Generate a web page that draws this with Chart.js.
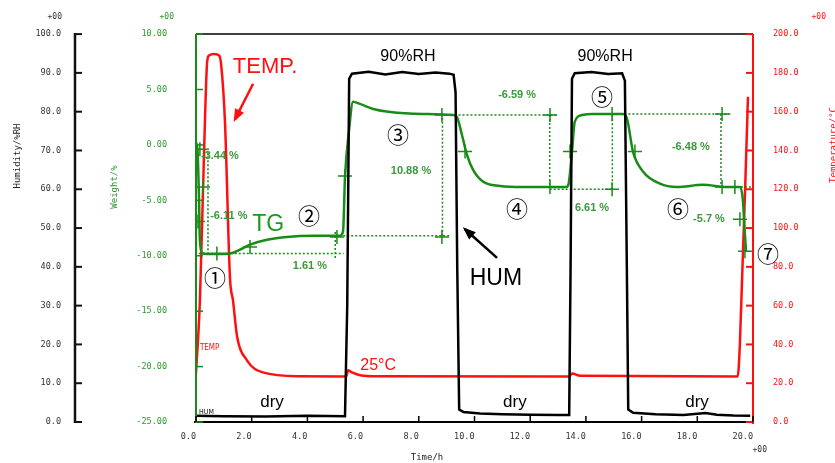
<!DOCTYPE html>
<html>
<head>
<meta charset="utf-8">
<script src="https://cdn.jsdelivr.net/npm/chart.js@4.4.1/dist/chart.umd.min.js"></script>
<style>
  html, body { margin: 0; padding: 0; background: #fff; }
  #wrap { width: 835px; height: 463px; }
</style>
</head>
<body>
<div id="wrap"><canvas id="tgChart"></canvas></div>
<script>
// humidity (%RH) against time (h)
const humTime  = [0, 1, 2.5, 4, 5.35, 5.43, 5.5, 5.6, 6.2, 6.8, 7.4, 8.0, 8.6, 9.1, 9.25, 9.32, 9.38, 9.45, 9.6, 10.2, 11, 12, 13, 13.4, 13.45, 13.5, 13.6, 14.2, 14.8, 15.3, 15.4, 15.47, 15.52, 15.7, 16.5, 17.5, 18.3, 18.7, 19.3, 19.9];
const humValue = [1.6, 1.5, 1.4, 1.6, 1.5, 30, 88.5, 89.8, 90.3, 89.6, 90.2, 89.7, 90.1, 89.8, 89.5, 85, 40, 3.2, 2.6, 2.2, 2.0, 1.9, 1.8, 1.8, 40, 88.5, 89.9, 90.2, 89.7, 89.9, 88, 40, 3.2, 2.4, 2.0, 1.8, 2.3, 1.9, 1.7, 1.6];

// temperature (°C)
const tempTime  = [0, 0.14, 0.29, 0.4, 0.47, 0.65, 0.83, 0.9, 1.04, 1.22, 1.33, 1.47, 1.83, 2.4, 3.73, 5.4, 5.46, 5.6, 5.9, 6.5, 13.4, 13.5, 13.8, 19.45, 19.53, 19.82];
const tempValue = [25, 62.6, 139.5, 185.6, 189, 189.7, 189, 184.6, 154.9, 74.4, 62.6, 44.6, 31.8, 25.6, 23.6, 23.5, 26.7, 25.6, 24.1, 23.6, 23.5, 25, 23.8, 23.5, 40.5, 167.7];

// weight change (TG, %)
const tgTime  = [0, 0.05, 0.11, 0.14, 0.25, 0.6, 1.22, 1.58, 1.94, 2.55, 3.27, 4.2, 5.17, 5.28, 5.35, 5.49, 5.64, 5.89, 6.36, 6.97, 8.15, 9.23, 9.37, 9.55, 9.73, 9.95, 10.3, 10.92, 11.74, 13.3, 13.38, 13.5, 13.6, 13.86, 14.25, 15.33, 15.48, 15.69, 16.05, 16.66, 17.27, 18.2, 19.07, 19.54, 19.64, 19.71, 19.75];
const tgValue = [0.2, -0.3, -5.1, -8.7, -9.8, -9.85, -9.8, -9.45, -9.0, -8.56, -8.3, -8.2, -8.2, -7.8, -2.9, 1.2, 3.9, 3.7, 3.24, 2.97, 2.8, 2.7, 2.5, 0.9, -0.9, -2.25, -3.3, -3.7, -3.8, -3.8, -3.5, -0.6, 2.1, 2.7, 2.8, 2.8, 2.34, -0.6, -2.4, -3.5, -3.8, -3.6, -3.8, -3.8, -5.1, -8.1, -9.6];

// step measurement guide lines (null = break)
const guideTime  = [0.43, 0.43, null, 0.1, 5.3, null, 5.0, 5.0, null, 5.0, 9.1, null, 8.85, 8.85, null, 8.85, 13.0, null, 12.7, 12.7, null, 12.7, 14.95, null, 14.95, 14.95, null, 14.95, 19.2, null, 18.85, 18.85, null, 18.85, 20];
const guideValue = [-0.3, -9.8, null, -9.8, -9.8, null, -10.2, -7.8, null, -8.2, -8.2, null, -8.2, 2.7, null, 2.7, 2.7, null, 2.7, -3.8, null, -4.0, -4.0, null, -4.0, 2.8, null, 2.8, 2.8, null, 2.8, -3.8, null, -3.8, -3.8];

// cursor marks on the TG curve
const markTime  = [0.14, 0.25, 0.07, 0.75, 1.94, 5.06, 5.35, 8.83, 8.83, 9.66, 12.71, 12.71, 13.43, 14.94, 14.94, 15.76, 18.89, 18.89, 19.35, 19.53, 19.71];
const markValue = [-0.4, -3.8, -6.9, -9.8, -9.2, -8.3, -2.8, -8.3, 2.7, -0.6, 2.7, -3.8, -0.6, 2.8, -4.0, -0.6, 2.8, -3.8, -3.8, -6.7, -9.6];

const timeTicks   = [0, 2, 4, 6, 8, 10, 12, 14, 16, 18, 20];
const humTicks    = [0, 10, 20, 30, 40, 50, 60, 70, 80, 90, 100];
const weightTicks = [-25, -20, -15, -10, -5, 0, 5, 10];
const tempTicks   = [0, 20, 40, 60, 80, 100, 120, 140, 160, 180, 200];

const GREEN = '#178c17';
const RED = '#ff1010';
const tickFont = { family: 'DejaVu Sans Mono', size: 8.5 };

const pts = (xs, ys) => xs.map((x, i) => ({ x: x, y: ys[i] }));
const setTicks = arr => s => { s.ticks = arr.map(v => ({ value: v })); };

// texts placed in time / humidity units
const notes = [
    { s: 'TEMP.', t: 2.48, h: 91.5, font: '22px "Liberation Sans"', color: RED },
    { s: 'TG', t: 2.59, h: 50.8, font: '23px "Liberation Sans"', color: '#1a9a1a' },
    { s: 'HUM', t: 10.77, h: 36.9, font: '23px "Liberation Sans"', color: '#000' },
    { s: '90%RH', t: 7.61, h: 94.1, font: '16px "Liberation Sans"', color: '#000' },
    { s: '90%RH', t: 14.69, h: 94.1, font: '16px "Liberation Sans"', color: '#000' },
    { s: 'dry', t: 2.73, h: 5.1, font: '17px "Liberation Sans"', color: '#000' },
    { s: 'dry', t: 11.45, h: 5.1, font: '17px "Liberation Sans"', color: '#000' },
    { s: 'dry', t: 17.99, h: 5.1, font: '17px "Liberation Sans"', color: '#000' },
    { s: '25°C', t: 6.54, h: 14.6, font: '16px "Liberation Sans"', color: RED },
    { s: '①', t: 0.68, h: 37.2, font: '22px "Noto Sans CJK JP"', color: '#000' },
    { s: '②', t: 4.06, h: 53.1, font: '22px "Noto Sans CJK JP"', color: '#000' },
    { s: '③', t: 7.25, h: 74.1, font: '22px "Noto Sans CJK JP"', color: '#000' },
    { s: '④', t: 11.53, h: 55.1, font: '22px "Noto Sans CJK JP"', color: '#000' },
    { s: '⑤', t: 14.58, h: 83.8, font: '22px "Noto Sans CJK JP"', color: '#000' },
    { s: '⑥', t: 17.31, h: 55.1, font: '22px "Noto Sans CJK JP"', color: '#000' },
    { s: '⑦', t: 20.54, h: 43.3, font: '22px "Noto Sans CJK JP"', color: '#000' },
    { s: '1.61 %', t: 4.09, h: 40.3, font: 'bold 11px "Liberation Sans"', color: '#3a993a' },
    { s: '-3.44 %', t: 0.86, h: 68.5, font: 'bold 11px "Liberation Sans"', color: '#3a993a' },
    { s: '-6.11 %', t: 1.18, h: 53.1, font: 'bold 11px "Liberation Sans"', color: '#3a993a' },
    { s: '10.88 %', t: 7.72, h: 64.6, font: 'bold 11px "Liberation Sans"', color: '#3a993a' },
    { s: '-6.59 %', t: 11.53, h: 84.4, font: 'bold 11px "Liberation Sans"', color: '#3a993a' },
    { s: '6.61 %', t: 14.22, h: 55.1, font: 'bold 11px "Liberation Sans"', color: '#3a993a' },
    { s: '-6.48 %', t: 17.77, h: 71.0, font: 'bold 11px "Liberation Sans"', color: '#3a993a' },
    { s: '-5.7 %', t: 18.42, h: 52.3, font: 'bold 11px "Liberation Sans"', color: '#3a993a' },
    { s: 'TEMP', t: 0.14, h: 19.0, font: '8px "DejaVu Sans Condensed"', color: RED, align: 'left' },
    { s: 'HUM', t: 0.11, h: 2.6, font: '7px "DejaVu Sans Condensed"', color: '#000', align: 'left' }
];
const arrows = [
    { t0: 2.05, h0: 87.2, t1: 1.4, h1: 78.0, color: RED },
    { t0: 10.81, h0: 42.3, t1: 9.66, h1: 49.7, color: '#000' }
];

function seg(ctx, x0, y0, x1, y1, color, w) {
    ctx.strokeStyle = color;
    ctx.lineWidth = w;
    ctx.beginPath();
    ctx.moveTo(x0, y0);
    ctx.lineTo(x1, y1);
    ctx.stroke();
}

function text(ctx, s, x, y, font, color, align, rot) {
    ctx.save();
    ctx.font = font;
    ctx.fillStyle = color;
    ctx.textAlign = align || 'center';
    ctx.textBaseline = 'middle';
    ctx.translate(x, y);
    if (rot) ctx.rotate(rot);
    ctx.fillText(s, 0, 0);
    ctx.restore();
}

const decor = {
    id: 'decor',
    afterDatasetsDraw(chart) {
        const { ctx, chartArea: a, scales } = chart;
        const sx = scales.x, hum = scales.hum, wt = scales.wt, tmp = scales.tmp;
        ctx.save();
        seg(ctx, a.left, a.top, a.right, a.top, '#000', 1.5);
        seg(ctx, a.left - 2, a.bottom, a.right, a.bottom, '#000', 2);
        seg(ctx, a.left, a.top, a.left, a.bottom + 1, GREEN, 2);
        seg(ctx, a.right, a.top, a.right, a.bottom + 2, RED, 2);

        const hx = hum.right;
        seg(ctx, hx, hum.getPixelForValue(100) - 1, hx, hum.getPixelForValue(0) + 1, '#111', 2.5);
        humTicks.forEach(v => seg(ctx, hx, hum.getPixelForValue(v), hx + 7, hum.getPixelForValue(v), '#111', 2));
        weightTicks.forEach(v => seg(ctx, a.left, wt.getPixelForValue(v), a.left + 7, wt.getPixelForValue(v), GREEN, 1.5));
        tempTicks.forEach(v => seg(ctx, a.right - 7, tmp.getPixelForValue(v), a.right, tmp.getPixelForValue(v), RED, 2));
        timeTicks.forEach(v => seg(ctx, sx.getPixelForValue(v), a.bottom, sx.getPixelForValue(v), a.bottom - 6, '#000', 1.5));
        ctx.restore();
    },
    afterDraw(chart) {
        const { ctx, scales } = chart;
        const sx = scales.x, hum = scales.hum;
        notes.forEach(n => text(ctx, n.s, sx.getPixelForValue(n.t), hum.getPixelForValue(n.h), n.font, n.color, n.align));

        arrows.forEach(r => {
            const x0 = sx.getPixelForValue(r.t0), y0 = hum.getPixelForValue(r.h0);
            const x1 = sx.getPixelForValue(r.t1), y1 = hum.getPixelForValue(r.h1);
            seg(ctx, x0, y0, x1, y1, r.color, 2.5);
            const ang = Math.atan2(y1 - y0, x1 - x0);
            ctx.fillStyle = r.color;
            ctx.beginPath();
            ctx.moveTo(x1 + 3 * Math.cos(ang), y1 + 3 * Math.sin(ang));
            ctx.lineTo(x1 - 10 * Math.cos(ang) + 5 * Math.sin(ang), y1 - 10 * Math.sin(ang) - 5 * Math.cos(ang));
            ctx.lineTo(x1 - 10 * Math.cos(ang) - 5 * Math.sin(ang), y1 - 10 * Math.sin(ang) + 5 * Math.cos(ang));
            ctx.closePath();
            ctx.fill();
        });

        // axis titles and exponent marks
        const f = '9px "DejaVu Sans Mono"';
        text(ctx, 'Humidity/%RH', 18, 156, f, '#222', 'center', -Math.PI / 2);
        text(ctx, 'Weight/%', 115, 187, f, '#2a9a2a', 'center', -Math.PI / 2);
        text(ctx, 'Temperature/°C', 834, 145, f, RED, 'center', -Math.PI / 2);
        text(ctx, 'Time/h', 427, 458, f, '#222', 'center');
        text(ctx, '+00', 62, 17, '8px "DejaVu Sans Mono"', '#333', 'right');
        text(ctx, '+00', 174, 17, '8px "DejaVu Sans Mono"', '#2a9a2a', 'right');
        text(ctx, '+00', 826, 17, '8px "DejaVu Sans Mono"', RED, 'right');
        text(ctx, '+00', 767, 450, '8px "DejaVu Sans Mono"', '#333', 'right');
    }
};

new Chart(document.getElementById('tgChart'), {
    type: 'line',
    data: {
        datasets: [
            { label: 'HUM', data: pts(humTime, humValue), yAxisID: 'hum', borderColor: '#000', borderWidth: 2.5, pointRadius: 0, tension: 0 },
            { label: 'guides', data: pts(guideTime, guideValue), yAxisID: 'wt', borderColor: GREEN, borderWidth: 1.5, borderDash: [2, 2], pointRadius: 0, spanGaps: false },
            { label: 'marks', data: pts(markTime, markValue), yAxisID: 'wt', showLine: false, pointStyle: 'cross', pointRadius: 7, pointBorderWidth: 1.5, borderColor: GREEN },
            { label: 'TG', data: pts(tgTime, tgValue), yAxisID: 'wt', borderColor: GREEN, borderWidth: 2.5, pointRadius: 0, cubicInterpolationMode: 'monotone' },
            { label: 'TEMP', data: pts(tempTime, tempValue), yAxisID: 'tmp', borderColor: RED, borderWidth: 2.5, pointRadius: 0, cubicInterpolationMode: 'monotone' }
        ]
    },
    options: {
        responsive: true,
        maintainAspectRatio: false,
        animation: false,
        layout: { padding: { top: 32, left: 0, right: 0, bottom: 0 } },
        plugins: { legend: { display: false }, tooltip: { enabled: false } },
        scales: {
            x: {
                type: 'linear', position: 'bottom', min: 0, max: 20,
                grid: { display: false, drawTicks: false }, border: { display: false },
                afterBuildTicks: setTicks(timeTicks),
                afterFit: s => { s.height = 41; },
                ticks: { align: 'end', padding: 10, color: '#333', font: tickFont, maxRotation: 0, autoSkip: false, callback: v => v.toFixed(1) }
            },
            hum: {
                type: 'linear', position: 'left', weight: 2, min: 0, max: 100,
                grid: { display: false, drawTicks: false }, border: { display: false },
                afterBuildTicks: setTicks(humTicks),
                afterFit: s => { s.width = 75; },
                ticks: { padding: 14, color: '#333', font: tickFont, callback: v => v.toFixed(1) }
            },
            wt: {
                type: 'linear', position: 'left', weight: 1, min: -25, max: 10,
                grid: { display: false, drawTicks: false }, border: { display: false },
                afterBuildTicks: setTicks(weightTicks),
                afterFit: s => { s.width = 121; },
                ticks: { padding: 29, color: '#2a9a2a', font: tickFont, callback: v => v.toFixed(2) }
            },
            tmp: {
                type: 'linear', position: 'right', min: 0, max: 200,
                grid: { display: false, drawTicks: false }, border: { display: false },
                afterBuildTicks: setTicks(tempTicks),
                afterFit: s => { s.width = 82; },
                ticks: { padding: 20, color: RED, font: tickFont, callback: v => v.toFixed(1) }
            }
        }
    },
    plugins: [decor]
});
</script>
</body>
</html>
